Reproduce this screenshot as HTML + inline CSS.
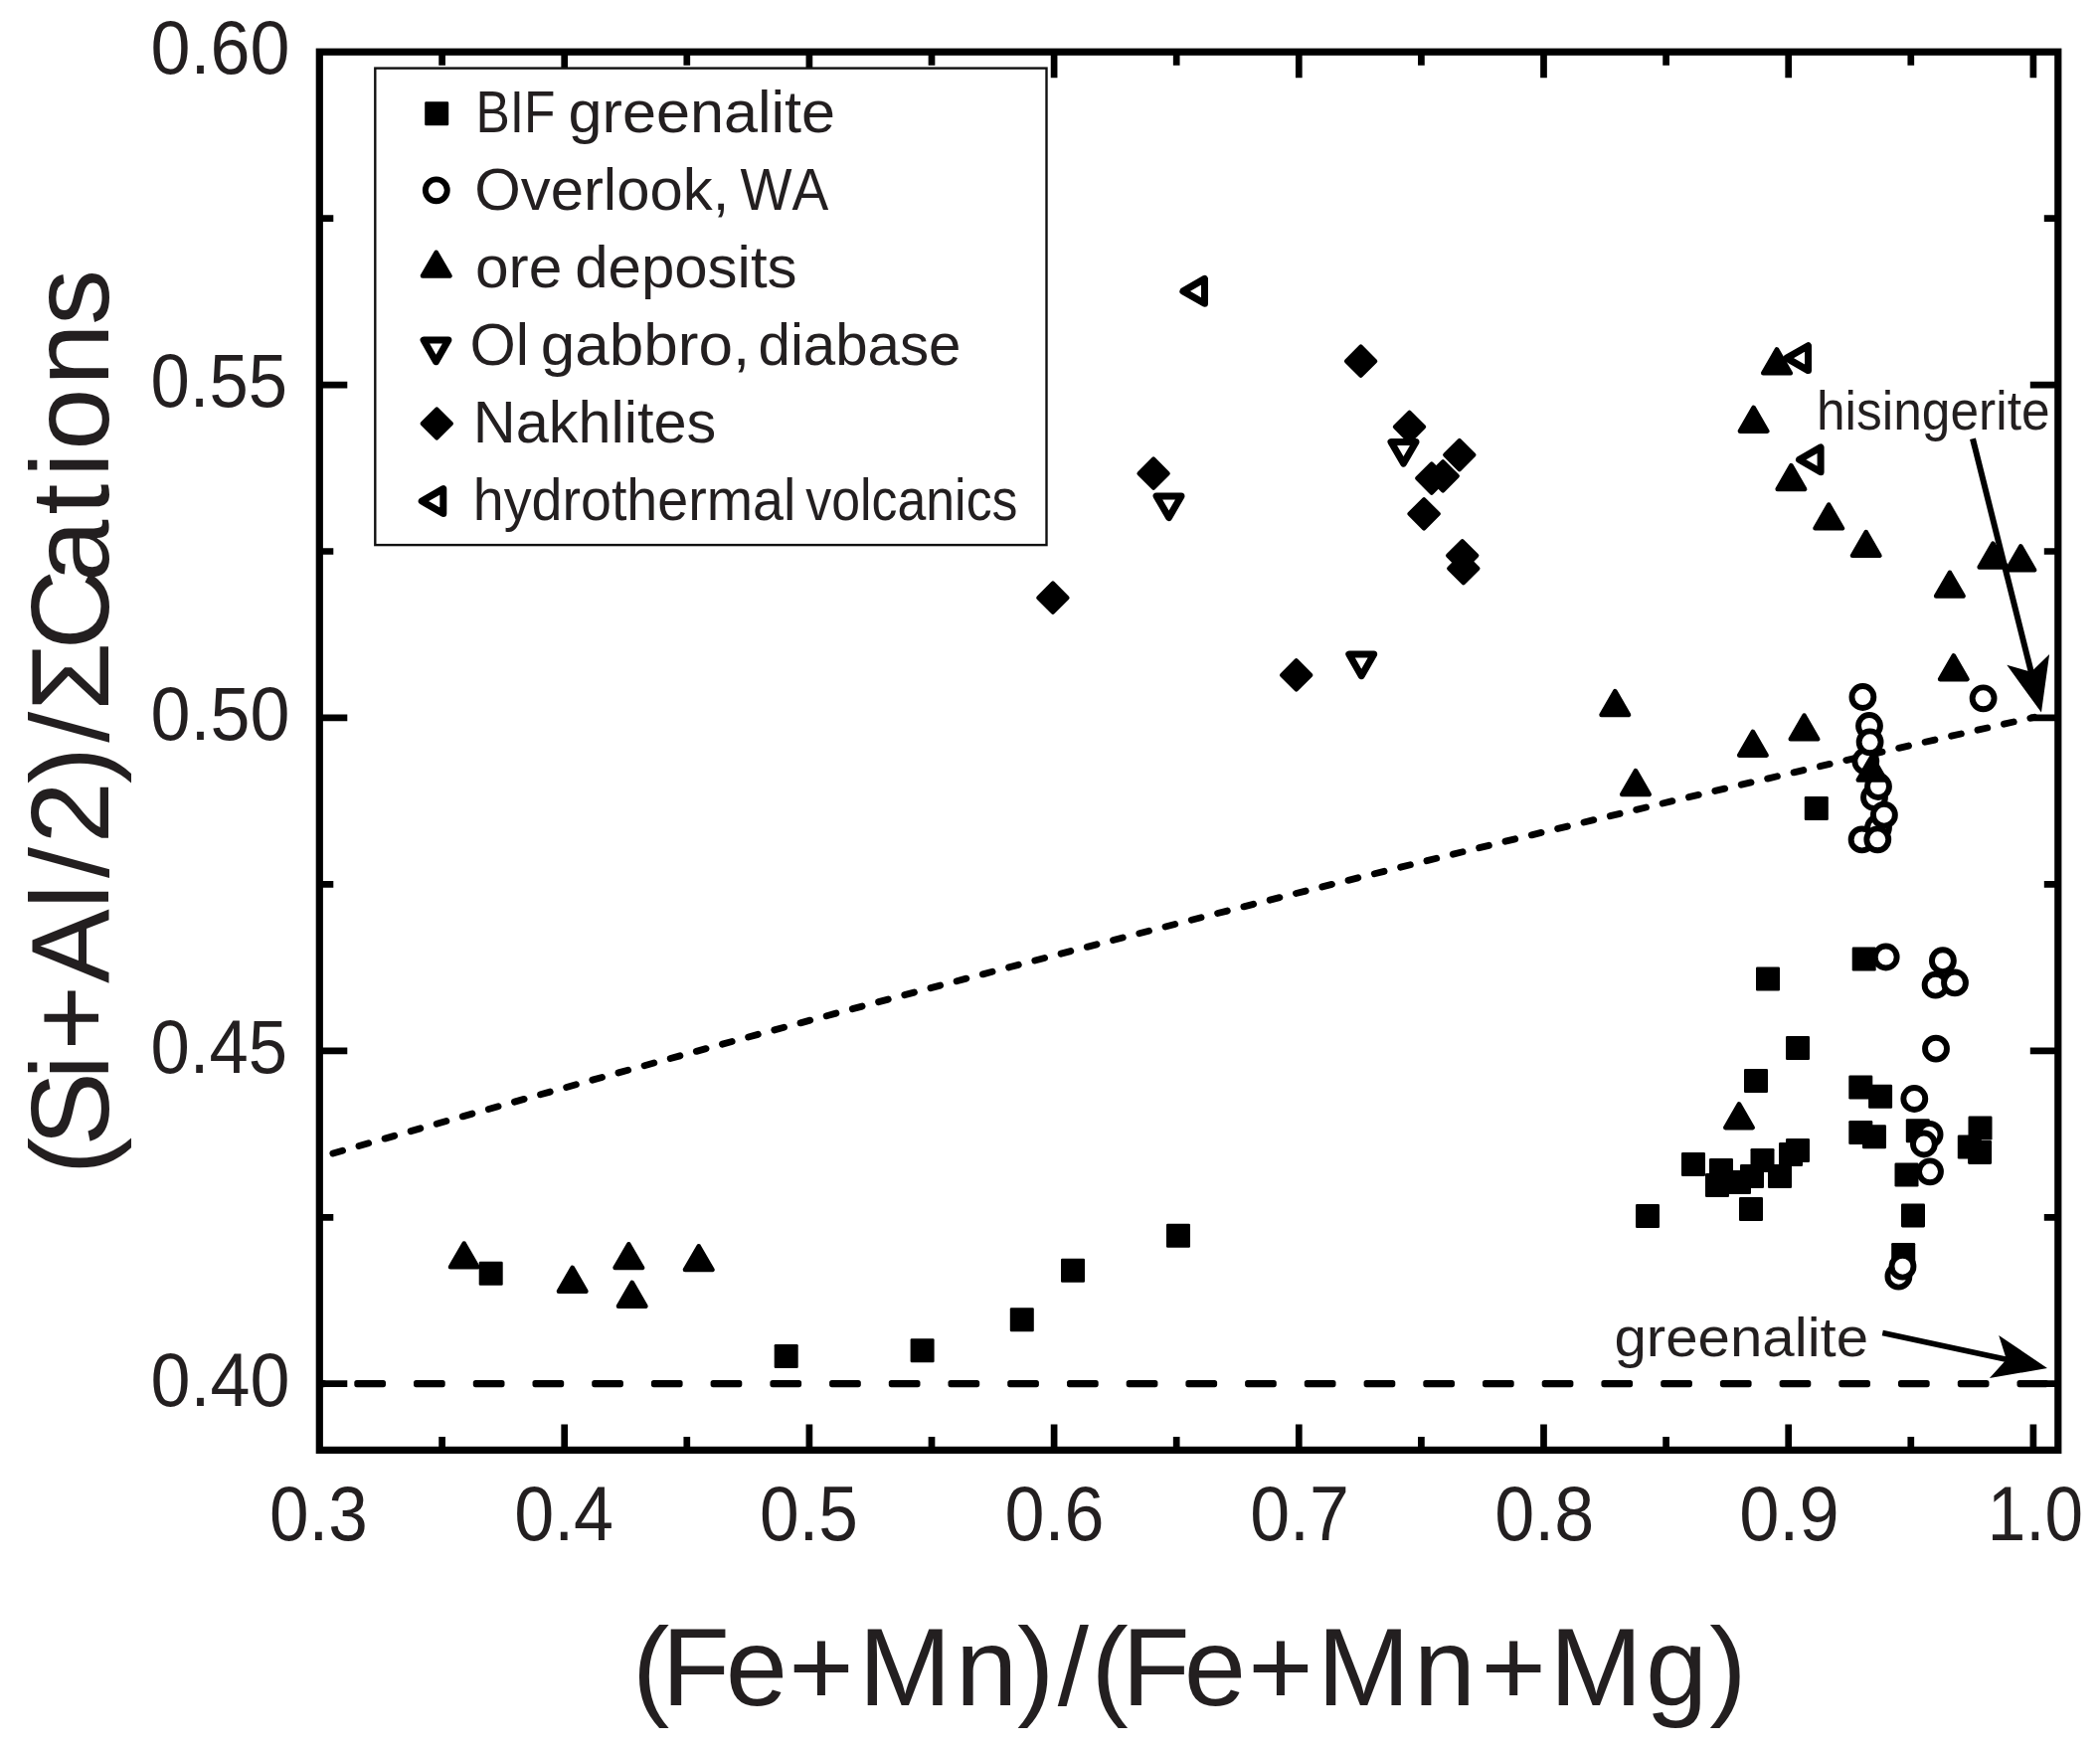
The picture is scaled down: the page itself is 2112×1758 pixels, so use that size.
<!DOCTYPE html>
<html lang="en"><head><meta charset="utf-8"><title>Greenalite–hisingerite composition plot</title>
<style>html,body{margin:0;padding:0;background:#fff}svg{display:block}</style></head>
<body>
<svg width="2112" height="1758" viewBox="0 0 2112 1758">
<rect width="2112" height="1758" fill="#fff"/>
<clipPath id="pa"><rect x="321.3" y="52.2" width="1748.5000000000002" height="1406.2"/></clipPath>
<g fill="none" stroke="#000" stroke-linecap="round" clip-path="url(#pa)">
<g fill="#000" stroke="none"><rect x="296.6" y="1388.0" width="31.7" height="7.2" rx="2.6"/><rect x="356.3" y="1388.0" width="31.7" height="7.2" rx="2.6"/><rect x="416.0" y="1388.0" width="31.7" height="7.2" rx="2.6"/><rect x="475.8" y="1388.0" width="31.7" height="7.2" rx="2.6"/><rect x="535.5" y="1388.0" width="31.7" height="7.2" rx="2.6"/><rect x="595.2" y="1388.0" width="31.7" height="7.2" rx="2.6"/><rect x="654.9" y="1388.0" width="31.7" height="7.2" rx="2.6"/><rect x="714.6" y="1388.0" width="31.7" height="7.2" rx="2.6"/><rect x="774.4" y="1388.0" width="31.7" height="7.2" rx="2.6"/><rect x="834.1" y="1388.0" width="31.7" height="7.2" rx="2.6"/><rect x="893.8" y="1388.0" width="31.7" height="7.2" rx="2.6"/><rect x="953.5" y="1388.0" width="31.7" height="7.2" rx="2.6"/><rect x="1013.2" y="1388.0" width="31.7" height="7.2" rx="2.6"/><rect x="1073.0" y="1388.0" width="31.7" height="7.2" rx="2.6"/><rect x="1132.7" y="1388.0" width="31.7" height="7.2" rx="2.6"/><rect x="1192.4" y="1388.0" width="31.7" height="7.2" rx="2.6"/><rect x="1252.1" y="1388.0" width="31.7" height="7.2" rx="2.6"/><rect x="1311.8" y="1388.0" width="31.7" height="7.2" rx="2.6"/><rect x="1371.6" y="1388.0" width="31.7" height="7.2" rx="2.6"/><rect x="1431.3" y="1388.0" width="31.7" height="7.2" rx="2.6"/><rect x="1491.0" y="1388.0" width="31.7" height="7.2" rx="2.6"/><rect x="1550.7" y="1388.0" width="31.7" height="7.2" rx="2.6"/><rect x="1610.4" y="1388.0" width="31.7" height="7.2" rx="2.6"/><rect x="1670.2" y="1388.0" width="31.7" height="7.2" rx="2.6"/><rect x="1729.9" y="1388.0" width="31.7" height="7.2" rx="2.6"/><rect x="1789.6" y="1388.0" width="31.7" height="7.2" rx="2.6"/><rect x="1849.3" y="1388.0" width="31.7" height="7.2" rx="2.6"/><rect x="1909.0" y="1388.0" width="31.7" height="7.2" rx="2.6"/><rect x="1968.8" y="1388.0" width="31.7" height="7.2" rx="2.6"/><rect x="2028.5" y="1388.0" width="31.7" height="7.2" rx="2.6"/></g>
<path d="M321.0 1164.04Q1183.50 915.40 2046.0 721.32" stroke-width="6.9" stroke-dasharray="10.00 17.115" stroke-dashoffset="-14.46"/>
</g>
<g fill="#000"><rect x="481.7" y="1268.7" width="24.0" height="24.0" rx="1.3"/><rect x="778.7" y="1352.0" width="24.0" height="24.0" rx="1.3"/><rect x="915.6" y="1346.3" width="24.0" height="24.0" rx="1.3"/><rect x="1015.8" y="1315.3" width="24.0" height="24.0" rx="1.3"/><rect x="1067.0" y="1265.7" width="24.0" height="24.0" rx="1.3"/><rect x="1173.0" y="1230.8" width="24.0" height="24.0" rx="1.3"/><rect x="1796.0" y="1042.0" width="24.0" height="24.0" rx="1.3"/><rect x="1754.0" y="1075.0" width="24.0" height="24.0" rx="1.3"/><rect x="1691.0" y="1159.0" width="24.0" height="24.0" rx="1.3"/><rect x="1719.0" y="1165.0" width="24.0" height="24.0" rx="1.3"/><rect x="1715.0" y="1180.0" width="24.0" height="24.0" rx="1.3"/><rect x="1737.0" y="1177.0" width="24.0" height="24.0" rx="1.3"/><rect x="1750.0" y="1171.0" width="24.0" height="24.0" rx="1.3"/><rect x="1760.5" y="1155.0" width="24.0" height="24.0" rx="1.3"/><rect x="1778.0" y="1171.0" width="24.0" height="24.0" rx="1.3"/><rect x="1789.0" y="1149.0" width="24.0" height="24.0" rx="1.3"/><rect x="1796.0" y="1145.0" width="24.0" height="24.0" rx="1.3"/><rect x="1749.0" y="1204.0" width="24.0" height="24.0" rx="1.3"/><rect x="1645.0" y="1211.0" width="24.0" height="24.0" rx="1.3"/><rect x="1859.3" y="1081.5" width="24.0" height="24.0" rx="1.3"/><rect x="1879.1" y="1090.8" width="24.0" height="24.0" rx="1.3"/><rect x="1859.3" y="1127.0" width="24.0" height="24.0" rx="1.3"/><rect x="1873.0" y="1131.2" width="24.0" height="24.0" rx="1.3"/><rect x="1916.8" y="1125.2" width="24.0" height="24.0" rx="1.3"/><rect x="1979.5" y="1122.5" width="24.0" height="24.0" rx="1.3"/><rect x="1968.8" y="1141.5" width="24.0" height="24.0" rx="1.3"/><rect x="1979.1" y="1146.9" width="24.0" height="24.0" rx="1.3"/><rect x="1905.5" y="1169.5" width="24.0" height="24.0" rx="1.3"/><rect x="1912.0" y="1210.4" width="24.0" height="24.0" rx="1.3"/><rect x="1902.2" y="1249.9" width="24.0" height="24.0" rx="1.3"/><rect x="1814.8" y="801.0" width="24.0" height="24.0" rx="1.3"/><rect x="1862.7" y="952.6" width="24.0" height="24.0" rx="1.3"/><rect x="1766.0" y="972.5" width="24.0" height="24.0" rx="1.3"/></g>
<g fill="#fff" stroke="#000" stroke-width="5.9"><circle cx="1947.0" cy="1054.7" r="10.95"/><circle cx="1925.3" cy="1105.0" r="10.95"/><circle cx="1940.6" cy="1140.9" r="10.95"/><circle cx="1934.9" cy="1150.5" r="10.95"/><circle cx="1941.0" cy="1178.3" r="10.95"/><circle cx="1909.4" cy="1283.7" r="10.95"/><circle cx="1913.5" cy="1273.7" r="10.95"/><circle cx="1873.4" cy="701.0" r="10.95"/><circle cx="1880.0" cy="730.0" r="10.95"/><circle cx="1876.3" cy="765.6" r="10.95"/><circle cx="1880.6" cy="746.3" r="10.95"/><circle cx="1885.0" cy="802.0" r="10.95"/><circle cx="1889.0" cy="791.0" r="10.95"/><circle cx="1889.0" cy="832.5" r="10.95"/><circle cx="1894.9" cy="819.7" r="10.95"/><circle cx="1872.6" cy="844.4" r="10.95"/><circle cx="1888.3" cy="844.3" r="10.95"/><circle cx="1994.6" cy="702.3" r="10.95"/><circle cx="1896.7" cy="962.5" r="10.95"/><circle cx="1953.9" cy="966.2" r="10.95"/><circle cx="1946.6" cy="990.7" r="10.95"/><circle cx="1966.0" cy="988.4" r="10.95"/></g>
<g fill="#000" stroke="#000" stroke-width="4.6" stroke-linejoin="round"><path d="M466.7 1250.6L480.4 1274.3H453.0Z"/><path d="M575.7 1275.0L589.4 1298.7H562.0Z"/><path d="M632.3 1251.3L646.0 1275.0H618.6Z"/><path d="M635.7 1290.0L649.4 1313.7H622.0Z"/><path d="M702.7 1253.3L716.4 1277.0H689.0Z"/><path d="M1749.0 1110.4L1762.7 1134.1H1735.3Z"/><path d="M1624.3 695.2L1638.0 718.9H1610.6Z"/><path d="M1645.0 775.2L1658.7 798.9H1631.3Z"/><path d="M1762.9 735.9L1776.6 759.6H1749.2Z"/><path d="M1814.5 719.6L1828.2 743.3H1800.8Z"/><path d="M1882.5 760.8L1896.2 784.5H1868.8Z"/><path d="M1787.0 351.5L1800.7 375.2H1773.3Z"/><path d="M1763.6 409.9L1777.3 433.6H1749.9Z"/><path d="M1801.4 468.2L1815.1 491.9H1787.7Z"/><path d="M1839.2 507.6L1852.9 531.3H1825.5Z"/><path d="M1876.7 535.1L1890.4 558.8H1863.0Z"/><path d="M2004.4 546.7L2018.1 570.4H1990.7Z"/><path d="M2032.3 549.5L2046.0 573.2H2018.6Z"/><path d="M1960.9 575.8L1974.6 599.5H1947.2Z"/><path d="M1964.8 659.4L1978.5 683.1H1951.1Z"/></g>
<g fill="#000" stroke="#000" stroke-width="4.2" stroke-linejoin="round"><path d="M1368.6 348.6L1383.2 363.2L1368.6 377.8L1354.0 363.2Z"/><path d="M1417.5 414.7L1432.1 429.3L1417.5 443.9L1402.9 429.3Z"/><path d="M1467.8 443.0L1482.4 457.6L1467.8 472.2L1453.2 457.6Z"/><path d="M1439.8 466.5L1454.4 481.1L1439.8 495.7L1425.2 481.1Z"/><path d="M1451.2 464.2L1465.8 478.8L1451.2 493.4L1436.6 478.8Z"/><path d="M1432.1 502.2L1446.7 516.8L1432.1 531.4L1417.5 516.8Z"/><path d="M1470.7 544.2L1485.3 558.8L1470.7 573.4L1456.1 558.8Z"/><path d="M1471.8 557.1L1486.4 571.7L1471.8 586.3L1457.2 571.7Z"/><path d="M1160.1 461.6L1174.7 476.2L1160.1 490.8L1145.5 476.2Z"/><path d="M1058.9 586.6L1073.5 601.2L1058.9 615.8L1044.3 601.2Z"/><path d="M1303.7 664.3L1318.3 678.9L1303.7 693.5L1289.1 678.9Z"/></g>
<g fill="#fff" stroke="#000" stroke-width="7.0" stroke-linejoin="round"><path d="M1399.0 444.5H1424.0L1411.5 466.1Z"/><path d="M1163.1 498.9H1188.0L1175.6 520.5Z"/><path d="M1356.8 658.1H1381.7L1369.2 679.7Z"/><path d="M1796.9 360.1L1818.5 347.7V372.6Z"/><path d="M1809.5 462.3L1831.1 449.9V474.8Z"/><path d="M1189.9 292.9L1211.5 280.4V305.3Z"/></g>
<path d="M1984.0 441.2L2044.2 681.6" stroke="#000" stroke-width="6.0" stroke-linecap="butt" fill="none"/><path d="M2053.0 716.5L2061.1 658.1L2042.8 675.8L2018.3 668.8Z" fill="#000"/>
<path d="M1893.3 1340.4L2023.8 1368.4" stroke="#000" stroke-width="5.6" stroke-linecap="butt" fill="none"/><path d="M2059.0 1376.0L2010.2 1342.9L2017.9 1367.2L2000.9 1386.1Z" fill="#000"/>
<g stroke="#000" stroke-width="7.2" fill="none" stroke-linecap="butt">
<rect x="321.3" y="52.2" width="1748.5000000000002" height="1406.2"/>
<path d="M444.6 52.2v13.5M444.6 1458.4v-13.5M567.7 52.2v26M567.7 1458.4v-26M690.8 52.2v13.5M690.8 1458.4v-13.5M813.9 52.2v26M813.9 1458.4v-26M937.0 52.2v13.5M937.0 1458.4v-13.5M1060.1 52.2v26M1060.1 1458.4v-26M1183.2 52.2v13.5M1183.2 1458.4v-13.5M1306.3 52.2v26M1306.3 1458.4v-26M1429.4 52.2v13.5M1429.4 1458.4v-13.5M1552.5 52.2v26M1552.5 1458.4v-26M1675.6 52.2v13.5M1675.6 1458.4v-13.5M1798.7 52.2v26M1798.7 1458.4v-26M1921.8 52.2v13.5M1921.8 1458.4v-13.5M2044.9 52.2v26M2044.9 1458.4v-26M321.3 1391.7h28M2069.8 1391.7h-28M321.3 1224.3h14M2069.8 1224.3h-14M321.3 1056.8h28M2069.8 1056.8h-28M321.3 889.4h14M2069.8 889.4h-14M321.3 721.9h28M2069.8 721.9h-28M321.3 554.5h14M2069.8 554.5h-14M321.3 387.1h28M2069.8 387.1h-28M321.3 219.6h14M2069.8 219.6h-14" stroke-width="6.7"/>
</g>
<rect x="377.3" y="68.6" width="675.2" height="479.5" fill="#fff" stroke="#111" stroke-width="2.4"/>
<g fill="#000"><rect x="427.2" y="102.3" width="24.0" height="24.0" rx="1.3"/></g>
<g fill="#fff" stroke="#000" stroke-width="5.9"><circle cx="438.8" cy="191.3" r="10.95"/></g>
<g fill="#000" stroke="#000" stroke-linejoin="round"><g stroke-width="4.6"><path d="M438.7 253.8L452.4 277.5H425.0Z"/></g><g stroke-width="4.2"><path d="M439.3 411.4L453.9 426.0L439.3 440.6L424.7 426.0Z"/></g></g>
<g fill="#fff" stroke="#000" stroke-width="7.0" stroke-linejoin="round"><path d="M426.1 342.1H450.9L438.5 363.7Z"/><path d="M424.2 504.0L445.8 491.6V516.5Z"/></g>
<g fill="#231f20" font-family="&quot;Liberation Sans&quot;, sans-serif" style="font-kerning:none">
<text y="132.8" font-size="60"><tspan x="478.48" textLength="80.08" lengthAdjust="spacingAndGlyphs">BIF</tspan> <tspan x="571.53" textLength="268.59" lengthAdjust="spacingAndGlyphs">greenalite</tspan></text>
<text y="210.7" font-size="60"><tspan x="477.17" textLength="256.11" lengthAdjust="spacingAndGlyphs">Overlook,</tspan> <tspan x="744.46" textLength="88.85" lengthAdjust="spacingAndGlyphs">WA</tspan></text>
<text y="288.6" font-size="60"><tspan x="477.96" textLength="87.43" lengthAdjust="spacingAndGlyphs">ore</tspan> <tspan x="578.18" textLength="223.39" lengthAdjust="spacingAndGlyphs">deposits</tspan></text>
<text y="366.5" font-size="60"><tspan x="472.48" textLength="59.50" lengthAdjust="spacingAndGlyphs">Ol</tspan> <tspan x="543.79" textLength="210.48" lengthAdjust="spacingAndGlyphs">gabbro,</tspan> <tspan x="762.56" textLength="203.93" lengthAdjust="spacingAndGlyphs">diabase</tspan></text>
<text y="444.6" font-size="60"><tspan x="475.82" textLength="244.53" lengthAdjust="spacingAndGlyphs">Nakhlites</tspan></text>
<text y="522.5" font-size="60"><tspan x="475.74" textLength="324.68" lengthAdjust="spacingAndGlyphs">hydrothermal</tspan> <tspan x="810.32" textLength="213.15" lengthAdjust="spacingAndGlyphs">volcanics</tspan></text>
<text x="1826.93" y="432.30" font-size="56" textLength="234.66" lengthAdjust="spacingAndGlyphs">hisingerite</text>
<text x="1623.45" y="1363.70" font-size="56" textLength="255.73" lengthAdjust="spacingAndGlyphs">greenalite</text>
<text x="270.92" y="1548.80" font-size="77" textLength="98.91" lengthAdjust="spacingAndGlyphs">0.3</text>
<text x="517.19" y="1548.80" font-size="77" textLength="99.91" lengthAdjust="spacingAndGlyphs">0.4</text>
<text x="763.92" y="1548.80" font-size="77" textLength="99.08" lengthAdjust="spacingAndGlyphs">0.5</text>
<text x="1010.49" y="1548.80" font-size="77" textLength="99.97" lengthAdjust="spacingAndGlyphs">0.6</text>
<text x="1257.20" y="1548.80" font-size="77" textLength="99.71" lengthAdjust="spacingAndGlyphs">0.7</text>
<text x="1503.19" y="1548.80" font-size="77" textLength="99.93" lengthAdjust="spacingAndGlyphs">0.8</text>
<text x="1749.18" y="1548.80" font-size="77" textLength="100.44" lengthAdjust="spacingAndGlyphs">0.9</text>
<text x="1998.82" y="1548.80" font-size="77" textLength="96.28" lengthAdjust="spacingAndGlyphs">1.0</text>
<text x="151.49" y="74.20" font-size="76.5" textLength="139.92" lengthAdjust="spacingAndGlyphs">0.60</text>
<text x="151.54" y="409.07" font-size="76.5" textLength="137.42" lengthAdjust="spacingAndGlyphs">0.55</text>
<text x="151.49" y="743.95" font-size="76.5" textLength="139.92" lengthAdjust="spacingAndGlyphs">0.50</text>
<text x="151.54" y="1078.82" font-size="76.5" textLength="137.42" lengthAdjust="spacingAndGlyphs">0.45</text>
<text x="151.49" y="1413.70" font-size="76.5" textLength="139.92" lengthAdjust="spacingAndGlyphs">0.40</text>
<text x="636.1 665.6 729.7 793.3 863.4 960.9 1023.0 1063.7 1097.5 1128.2 1190.8 1255.2 1324.8 1421.8 1489.5 1558.5 1655.1 1719.3" y="1715" font-size="112">(Fe+Mn)/(Fe+Mn+Mg)</text>
<text transform="translate(108.6 1172.8) rotate(-90)" x="-8.5 20.0 87.1 116.3 183.9 258.5 289.7 324.2 384.6 426.0 457.9 519.2 587.9 655.1 692.7 720.1 785.1 845.9" y="0" font-size="112">(Si+Al/2)/ΣCations</text>
</g>
</svg>
</body></html>
